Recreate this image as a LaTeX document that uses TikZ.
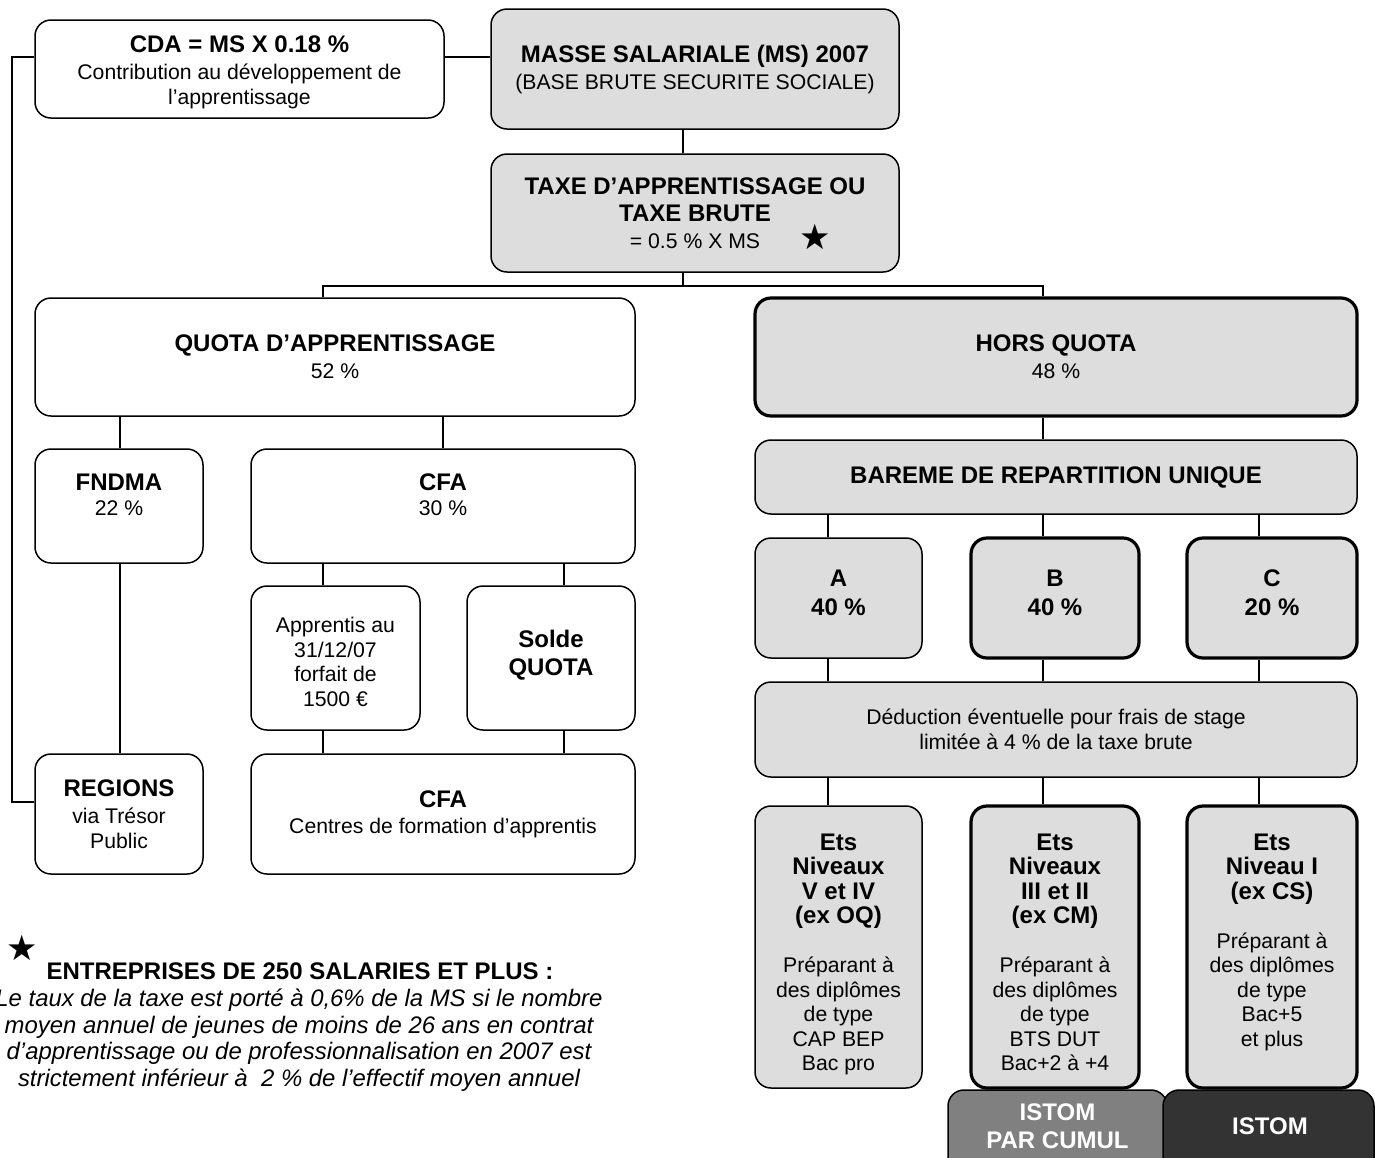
\documentclass[tikz,border=0pt]{standalone}
\usepackage{fontspec}
\setmainfont{Liberation Sans}
\newfontfamily\symfont{DejaVu Sans}
\newcommand\fn{\fontsize{21.2}{24.5}\selectfont}
\newcommand\fb{\fontsize{24}{27}\selectfont\bfseries}
\definecolor{boxgray}{HTML}{DDDDDD}
\definecolor{midgray}{HTML}{808080}
\definecolor{darkgray}{HTML}{333333}
\begin{document}
\begin{tikzpicture}[x=1pt,y=-1pt,
  bx/.style={draw=black, rounded corners=16pt, line width=1.5pt, inner sep=0pt, align=center, font=\fn, fill=white},
  gb/.style={bx, fill=boxgray},
  tk/.style={line width=3.2pt},
  txt/.style={inner sep=0pt, align=center, font=\fn},
  ln/.style={line width=1.5pt},
  starn/.style={inner sep=0pt, font=\symfont\fontsize{35}{35}\selectfont}]
\useasboundingbox (0,0) rectangle (1375,1157);
\fill[white] (0,0) rectangle (1375,1157);
\clip (0,0) rectangle (1375,1157);

% ---------- top ----------
\node[bx, minimum width=409pt, minimum height=98pt] (cda) at (239.5,69) {};
\node[txt] (cdat) at (239.5,72.5)
  {{\fb CDA = MS X 0.18 \%}\\[2.5pt] Contribution au développement de\\ l’apprentissage};
\node[gb, minimum width=408pt, minimum height=120pt] (masse) at (695,69)
  {{\fb MASSE SALARIALE (MS) 2007}\\[2.5pt] (BASE BRUTE SECURITE SOCIALE)};
\node[gb, minimum width=408pt, minimum height=118pt] (taxe) at (695,213)
  {{\fb TAXE D’APPRENTISSAGE OU}\\[2.5pt] {\fb TAXE BRUTE}\\[3pt] = 0.5 \% X MS};
\node[starn] (star1) at (815,237) {★};

% ---------- quota side ----------
\node[bx, minimum width=600pt, minimum height=118pt] (quota) at (335,357)
  {{\fb QUOTA D’APPRENTISSAGE}\\[2.5pt] 52 \%};
\node[bx, minimum width=168pt, minimum height=114pt] (fndma) at (119,506) {};
\node[txt] (fndmat) at (119,495) {{\fb FNDMA}\\[0.5pt] 22 \%};
\node[bx, minimum width=384pt, minimum height=114pt] (cfa1) at (443,506) {};
\node[txt] (cfa1t) at (443,495) {{\fb CFA}\\[0.5pt] 30 \%};
\node[bx, minimum width=169pt, minimum height=144pt] (appr) at (335.5,658) {};
\node[txt] (apprt) at (335.5,662) {Apprentis au\\ 31/12/07\\ forfait de\\ 1500 €};
\node[bx, minimum width=168pt, minimum height=144pt] (solde) at (551,658) {};
\node[txt] (soldet) at (551,655) {{\fb Solde}\\[3.5pt] {\fb QUOTA}};
\node[bx, minimum width=168pt, minimum height=120pt] (regions) at (119,814)
  {{\fb REGIONS}\\[2.5pt] via Trésor\\ Public};
\node[bx, minimum width=384pt, minimum height=120pt] (cfa2) at (443,814)
  {{\fb CFA}\\[1.5pt] Centres de formation d’apprentis};

% ---------- hors quota side ----------
\node[gb, tk, minimum width=602pt, minimum height=118pt] (hors) at (1056,357)
  {{\fb HORS QUOTA}\\[2.5pt] 48 \%};
\node[gb, minimum width=602pt, minimum height=74pt] (bareme) at (1056,477)
  {\fb BAREME DE REPARTITION UNIQUE};
\node[gb, minimum width=167pt, minimum height=120pt] (a) at (838.5,598) {};
\node[txt] (at) at (838.5,592.5) {{\fb A}\\[4.5pt] {\fb 40 \%}};
\node[gb, tk, minimum width=168pt, minimum height=120pt] (b) at (1055,598) {};
\node[txt] (bt) at (1055,592.5) {{\fb B}\\[4.5pt] {\fb 40 \%}};
\node[gb, tk, minimum width=170pt, minimum height=120pt] (c) at (1272,598) {};
\node[txt] (ct) at (1272,592.5) {{\fb C}\\[4.5pt] {\fb 20 \%}};
\node[gb, minimum width=602pt, minimum height=95pt] (ded) at (1056,729.5)
  {Déduction éventuelle pour frais de stage\\ limitée à 4 \% de la taxe brute};

\node[gb, minimum width=167pt, minimum height=282pt] (ea) at (838.5,947) {};
\node[txt, anchor=north] (eat) at (838.5,833.4)
  {{\fb Ets}\\ {\fb Niveaux}\\ {\fb V et IV}\\ {\fb (ex OQ)}\\[24.5pt] Préparant à\\ des diplômes\\ de type\\ CAP BEP\\ Bac pro};
\node[gb, tk, minimum width=168pt, minimum height=282pt] (eb) at (1055,947) {};
\node[txt, anchor=north] (ebt) at (1055,833.4)
  {{\fb Ets}\\ {\fb Niveaux}\\ {\fb III et II}\\ {\fb (ex CM)}\\[24.5pt] Préparant à\\ des diplômes\\ de type\\ BTS DUT\\ Bac+2 à +4};
\node[gb, tk, minimum width=170pt, minimum height=282pt] (ec) at (1272,947) {};
\node[txt, anchor=north] (ect) at (1272,833.4)
  {{\fb Ets}\\ {\fb Niveau I}\\ {\fb (ex CS)}\\[24.5pt] Préparant à\\ des diplômes\\ de type\\ Bac+5\\ et plus};

\node[bx, fill=midgray, minimum width=219pt, minimum height=120pt] (ist1) at (1057.5,1150) {};
\node[txt, text=white] (ist1t) at (1057.5,1126) {{\fb ISTOM}\\[3.5pt] {\fb PAR CUMUL}};
\node[bx, fill=darkgray, minimum width=211pt, minimum height=120pt] (ist2) at (1268.5,1150) {};
\node[txt, text=white, font=\fb] (ist2t) at (1270,1126) {ISTOM};

% ---------- footnote ----------
\node[starn] (star2) at (22,948) {★};
\node[txt, font=\fb] (fnh) at (300,971) {ENTREPRISES DE 250 SALARIES ET PLUS :};
\node[txt, font=\fontsize{23.9}{26.6}\selectfont\itshape] (fnt) at (299,1040)
  {Le taux de la taxe est porté à 0,6\% de la MS si le nombre\\
   moyen annuel de jeunes de moins de 26 ans en contrat\\
   d’apprentissage ou de professionnalisation en 2007 est\\
   strictement inférieur à\ \ 2 \% de l’effectif moyen annuel};

% ---------- connectors ----------
\coordinate (lft) at (12,430);
\coordinate (j1) at (683,286);
\draw[ln] (cda.east |- 0,57) -- (masse.west |- 0,57);
\draw[ln] (cda.west |- 0,57) -| (lft) |- (regions.west |- 0,802);
\draw[ln] (masse.south -| j1) -- (taxe.north -| j1);
\draw[ln] (taxe.south -| j1) -- (j1);
\draw[ln] (quota.north -| 323,0) |- (j1) -| (hors.north -| 1043,0);
\draw[ln] (quota.south -| 120,0) -- (fndma.north -| 120,0);
\draw[ln] (quota.south -| 443,0) -- (cfa1.north -| 443,0);
\draw[ln] (fndma.south -| 120,0) -- (regions.north -| 120,0);
\draw[ln] (cfa1.south -| 323,0) -- (appr.north -| 323,0);
\draw[ln] (cfa1.south -| 564,0) -- (solde.north -| 564,0);
\draw[ln] (appr.south -| 323,0) -- (cfa2.north -| 323,0);
\draw[ln] (solde.south -| 564,0) -- (cfa2.north -| 564,0);
\draw[ln] (hors.south -| 1043,0) -- (bareme.north -| 1043,0);
\draw[ln] (bareme.south -| 828,0) -- (a.north -| 828,0);
\draw[ln] (bareme.south -| 1043,0) -- (b.north -| 1043,0);
\draw[ln] (bareme.south -| 1259,0) -- (c.north -| 1259,0);
\draw[ln] (a.south -| 828,0) -- (ded.north -| 828,0);
\draw[ln] (b.south -| 1043,0) -- (ded.north -| 1043,0);
\draw[ln] (c.south -| 1259,0) -- (ded.north -| 1259,0);
\draw[ln] (ded.south -| 828,0) -- (ea.north -| 828,0);
\draw[ln] (ded.south -| 1043,0) -- (eb.north -| 1043,0);
\draw[ln] (ded.south -| 1259,0) -- (ec.north -| 1259,0);
\end{tikzpicture}
\end{document}
